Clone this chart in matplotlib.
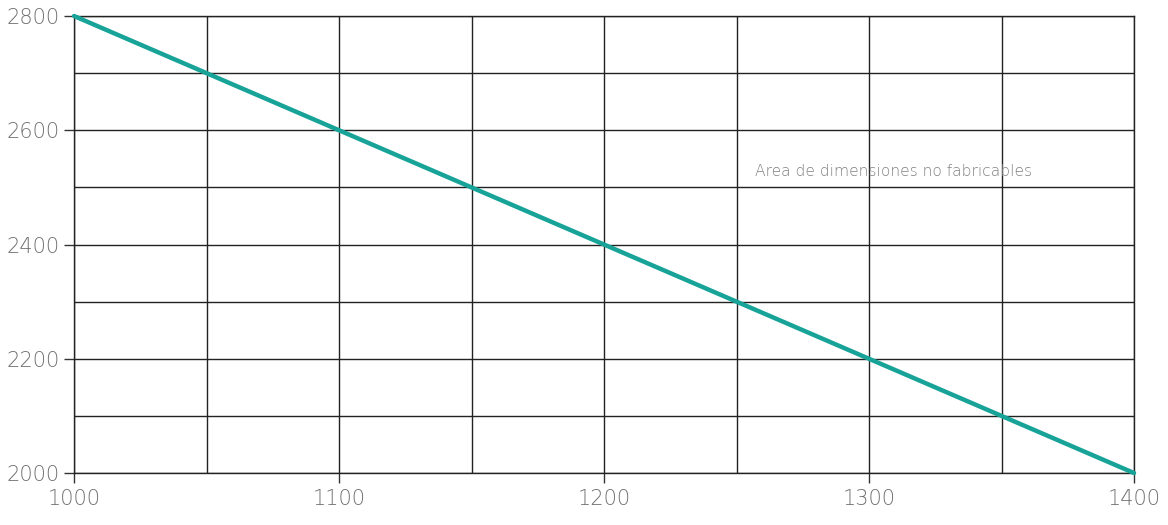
import matplotlib
matplotlib.use("Agg")
import matplotlib.pyplot as plt
import numpy as np

# Datos del grafico
ancho = [1000, 1400]
alto = [2800, 2000]
x_ticks = [1000, 1100, 1200, 1300, 1400]
y_ticks = [2000, 2200, 2400, 2600, 2800]
x_grid = np.arange(1000, 1401, 50)
y_grid = np.arange(2000, 2801, 100)
texto = "Area de dimensiones no fabricables"

plt.rcParams['font.family'] = ['DejaVu Sans']

fig = plt.figure(figsize=(11.68, 5.25), dpi=100)
ax = fig.add_axes([0.0634, 0.099, 0.9075, 0.8705])

ax.set_xlim(1000, 1400)
ax.set_ylim(2000, 2800)

# Rejilla
for xv in x_grid:
    ax.axvline(xv, color='#222222', lw=1.0, zorder=1)
for yv in y_grid:
    ax.axhline(yv, color='#222222', lw=1.0, zorder=1)

ax.plot(ancho, alto, color='#17a398', lw=3.2, zorder=3, solid_capstyle='round', clip_on=False)

ax.text(1257, 2527, texto, color='#808080', fontsize=11.2, fontweight='light', va='center', ha='left')

ax.set_xticks(x_ticks)
ax.set_yticks(y_ticks)
ax.set_xticklabels([str(v) for v in x_ticks], color='#707070', fontsize=15, fontweight='light')
ax.set_yticklabels([str(v) for v in y_ticks], color='#707070', fontsize=15, fontweight='light')
ax.tick_params(axis='both', which='major', direction='out', length=7.2, width=1.0,
               color='#333333', bottom=True, left=True, top=False, right=False)
ax.tick_params(axis='x', pad=4)
ax.tick_params(axis='y', pad=3)

for s in ax.spines.values():
    s.set_color('#222222')
    s.set_linewidth(1.0)

fig.savefig("out.png", dpi=100)
